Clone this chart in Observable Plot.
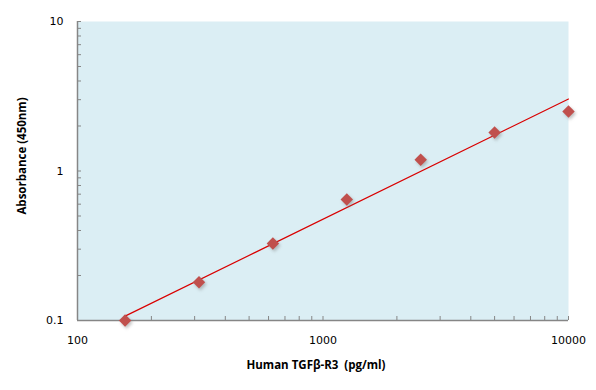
<!DOCTYPE html>
<html>
<head>
<meta charset="utf-8">
<script src="https://cdn.jsdelivr.net/npm/d3@7"></script>
<script src="https://cdn.jsdelivr.net/npm/@observablehq/plot@0.6"></script>
<style>
  html, body { margin: 0; padding: 0; background: #fff; }
  #chart svg { display: block; }
</style>
</head>
<body>
<div id="chart"></div>
<script>
// Data
const concentrations = [156.25, 312.5, 625, 1250, 2500, 5000, 10000];
const absorbances = [0.100, 0.180, 0.327, 0.645, 1.19, 1.81, 2.50];
const fitX = [156.25, 10000];
const fitY = [0.107, 3.03];
const xTickLabels = [100, 1000, 10000];
const yTickLabels = [0.1, 1, 10];

const points = concentrations.map((x, i) => ({x, y: absorbances[i]}));
const fit = fitX.map((x, i) => ({x, y: fitY[i]}));

const W = 596, H = 390;
const mL = 77, mR = 28, mT = 21, mB = 70;
const plotW = W - mL - mR, plotH = H - mT - mB;
const tickLen = 4;

const xMinor = [];
for (const d of [100, 1000]) for (let k = 1; k <= 10; k++) xMinor.push(d * k);
const yMinor = [];
for (const d of [0.1, 1]) for (let k = 1; k <= 10; k++) yMinor.push(+(d * k).toFixed(2));

const axisColor = "#868686";

const chart = Plot.plot({
  width: W,
  height: H,
  marginLeft: mL,
  marginRight: mR,
  marginTop: mT,
  marginBottom: mB,
  style: {fontFamily: "DejaVu Sans", fontSize: "11px", color: "#000", background: "#fff"},
  x: {type: "log", domain: [100, 10000]},
  y: {type: "log", domain: [0.1, 10]},
  marks: [
    Plot.frame({fill: "#dbeef4", stroke: null}),
    Plot.tickX([...new Set(xMinor)], {x: d => d, stroke: axisColor, insetTop: plotH - tickLen}),
    Plot.tickY([...new Set(yMinor)], {y: d => d, stroke: axisColor, insetRight: plotW - tickLen}),
    Plot.ruleX([100], {stroke: axisColor, strokeWidth: 1.5}),
    Plot.ruleY([0.1], {stroke: axisColor, strokeWidth: 1.5}),
    Plot.axisX(xTickLabels, {tickSize: 0, tickPadding: 16, tickFormat: d => String(d), fontSize: 11, label: null}),
    Plot.axisY(yTickLabels, {tickSize: 0, tickPadding: 14, tickFormat: d => String(d), fontSize: 11, label: null}),
    Plot.line(fit, {x: "x", y: "y", stroke: "#d90000", strokeWidth: 1.2}),
    Plot.dot(points, {x: "x", y: "y", symbol: "diamond2", r: 5.6, fill: "#7a7a7a", fillOpacity: 0.45, stroke: null, dx: 1.5, dy: 2, imageFilter: "blur(1.5px)"}),
    Plot.dot(points, {x: "x", y: "y", symbol: "diamond2", r: 5.6, fill: "#c0504d", stroke: null}),
    Plot.text(["Human TGFβ-R3  (pg/ml)"], {frameAnchor: "bottom", dy: 48, text: d => d, fontWeight: "bold", fontSize: 11.5, fontFamily: "Open Sans", dx: -7}),
    Plot.text(["Absorbance (450nm)"], {frameAnchor: "left", textAnchor: "middle", dx: -55, dy: -15, rotate: -90, text: d => d, fontWeight: "bold", fontSize: 11.5, fontFamily: "Open Sans"})
  ]
});

document.getElementById("chart").appendChild(chart);
</script>
</body>
</html>
